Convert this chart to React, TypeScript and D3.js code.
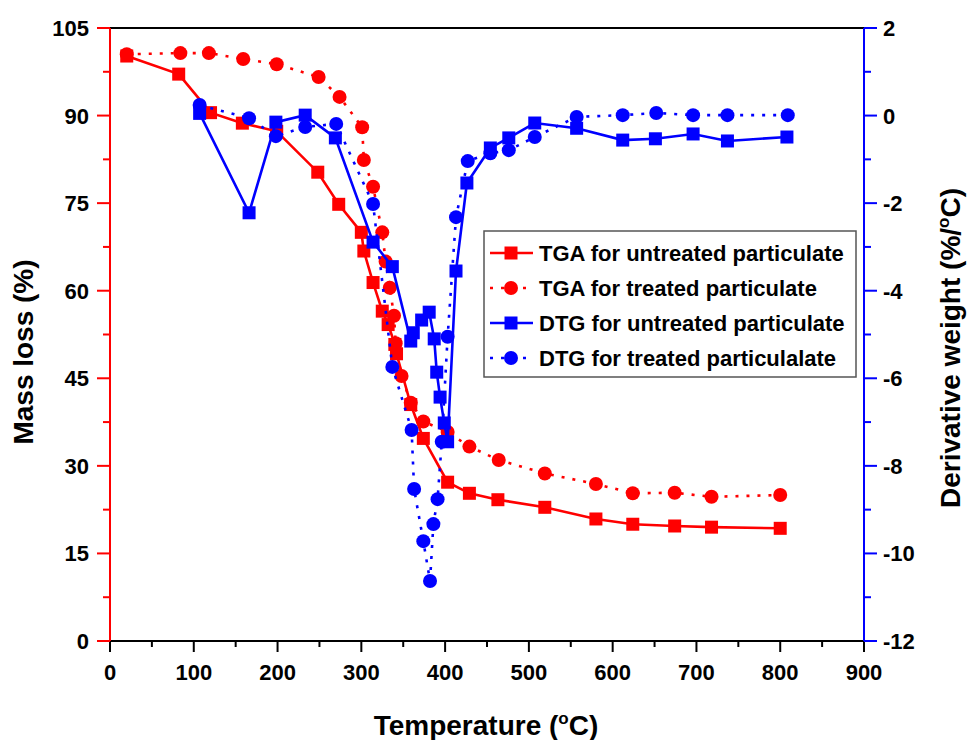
import React from "react";
import * as d3 from "d3";

const tgaUntreatedT = [20, 82, 120, 158, 199, 248, 273, 300, 303, 314, 325, 332, 340, 342, 359, 374, 403, 429, 463, 519, 580, 624, 674, 718, 800];
const tgaUntreatedV = [100.2, 97.1, 90.5, 88.7, 87.3, 80.3, 74.8, 70.0, 66.8, 61.4, 56.5, 54.2, 50.8, 49.2, 40.5, 34.7, 27.2, 25.3, 24.2, 22.9, 20.9, 20.0, 19.7, 19.5, 19.3];

const tgaTreatedT = [20, 84, 118, 159, 199, 249, 274, 301, 303, 314, 325, 329, 334, 339, 341, 348, 359, 374, 403, 429, 464, 519, 580, 624, 674, 718, 800];
const tgaTreatedV = [100.5, 100.7, 100.7, 99.7, 98.8, 96.6, 93.2, 88.0, 82.4, 77.8, 70.0, 65.0, 60.5, 55.7, 51.0, 45.4, 40.8, 37.6, 35.8, 33.3, 31.0, 28.7, 26.9, 25.3, 25.4, 24.7, 25.0];

const dtgUntreatedT = [107, 166, 198, 233, 269, 314, 337, 359, 362, 372, 381, 387, 390, 394, 399, 403, 413, 426, 454, 476, 507, 557, 612, 651, 696, 737, 808];
const dtgUntreatedV = [0.05, -2.22, -0.15, 0.01, -0.51, -2.89, -3.45, -5.15, -4.96, -4.67, -4.49, -5.1, -5.86, -6.43, -7.02, -7.45, -3.55, -1.54, -0.74, -0.51, -0.17, -0.29, -0.56, -0.53, -0.42, -0.58, -0.49];

const dtgTreatedT = [107, 166, 198, 233, 270, 314, 337, 360, 363, 374, 382, 386, 391, 396, 403, 413, 427, 454, 476, 507, 557, 612, 652, 696, 737, 809];
const dtgTreatedV = [0.24, -0.06, -0.47, -0.26, -0.19, -2.02, -5.74, -7.18, -8.53, -9.72, -10.63, -9.33, -8.76, -7.45, -5.05, -2.32, -1.04, -0.86, -0.79, -0.49, -0.03, 0.01, 0.06, 0.01, 0.01, 0.01];

const xTicks = [0, 100, 200, 300, 400, 500, 600, 700, 800, 900];
const leftTicks = [0, 15, 30, 45, 60, 75, 90, 105];
const rightTicks = [2, 0, -2, -4, -6, -8, -10, -12];

const legendLabels = [
  "TGA for untreated particulate",
  "TGA for treated particulate",
  "DTG for untreated particulate",
  "DTG for treated particulalate",
];

const RED = "#ff0000";
const BLUE = "#0000ff";
const FONT = "'Liberation Sans', Arial, sans-serif";

export default function App() {
  const W = 967, H = 740;
  const x = d3.scaleLinear().domain([0, 900]).range([110, 864]);
  const yL = d3.scaleLinear().domain([0, 105]).range([641, 28]);
  const yR = d3.scaleLinear().domain([-12, 2]).range([641, 28]);

  const lineL = (ts: number[], vs: number[]) =>
    d3.line<number>().x((_, i) => x(ts[i])).y((v) => yL(v))(vs) || "";
  const lineR = (ts: number[], vs: number[]) =>
    d3.line<number>().x((_, i) => x(ts[i])).y((v) => yR(v))(vs) || "";

  const series = [
    { t: tgaUntreatedT, v: tgaUntreatedV, sc: yL, color: RED, dash: undefined, shape: "sq", path: lineL(tgaUntreatedT, tgaUntreatedV) },
    { t: tgaTreatedT, v: tgaTreatedV, sc: yL, color: RED, dash: "3,8", shape: "ci", path: lineL(tgaTreatedT, tgaTreatedV) },
    { t: dtgUntreatedT, v: dtgUntreatedV, sc: yR, color: BLUE, dash: undefined, shape: "sq", path: lineR(dtgUntreatedT, dtgUntreatedV) },
    { t: dtgTreatedT, v: dtgTreatedV, sc: yR, color: BLUE, dash: "3,8", shape: "ci", path: lineR(dtgTreatedT, dtgTreatedV) },
  ];

  const xMinor = d3.range(50, 900, 100);
  const lMinor = d3.range(7.5, 105, 15);
  const rMinor = d3.range(-11, 2, 2);

  const marker = (shape: string, cx: number, cy: number, color: string, key: any) =>
    shape === "sq" ? (
      <rect key={key} x={cx - 6.5} y={cy - 6.5} width={13} height={13} fill={color} />
    ) : (
      <circle key={key} cx={cx} cy={cy} r={7} fill={color} />
    );

  return (
    <svg width={W} height={H} style={{ position: "absolute", left: 0, top: 0, background: "#fff" }} fontFamily={FONT} fontWeight="bold">
      <rect x={0} y={0} width={W} height={H} fill="#fff" />
      {/* series */}
      {series.map((s, si) => (
        <g key={si}>
          <path d={s.path} fill="none" stroke={s.color} strokeWidth={2.6} strokeDasharray={s.dash} />
          {s.v.map((v, i) => marker(s.shape, x(s.t[i]), s.sc(v), s.color, i))}
        </g>
      ))}

      {/* axes frame */}
      <line x1={110} x2={864} y1={28} y2={28} stroke="#000" strokeWidth={2} />
      <line x1={110} x2={864} y1={641} y2={641} stroke="#000" strokeWidth={2} />
      <line x1={110} x2={110} y1={28} y2={641} stroke={RED} strokeWidth={2} />
      <line x1={864} x2={864} y1={28} y2={641} stroke={BLUE} strokeWidth={2} />

      {/* bottom ticks */}
      {xTicks.map((t) => (
        <g key={"xt" + t}>
          <line x1={x(t)} x2={x(t)} y1={641} y2={652} stroke="#000" strokeWidth={2} />
          <text x={x(t)} y={680} textAnchor="middle" fontSize={22}>{t}</text>
        </g>
      ))}
      {xMinor.map((t) => (
        <line key={"xm" + t} x1={x(t)} x2={x(t)} y1={641} y2={647} stroke="#000" strokeWidth={2} />
      ))}

      {/* left ticks */}
      {leftTicks.map((t) => (
        <g key={"lt" + t}>
          <line x1={97} x2={110} y1={yL(t)} y2={yL(t)} stroke={RED} strokeWidth={2} />
          <text x={89} y={yL(t) + 8} textAnchor="end" fontSize={22}>{t}</text>
        </g>
      ))}
      {lMinor.map((t) => (
        <line key={"lm" + t} x1={103} x2={110} y1={yL(t)} y2={yL(t)} stroke={RED} strokeWidth={2} />
      ))}

      {/* right ticks */}
      {rightTicks.map((t) => (
        <g key={"rt" + t}>
          <line x1={864} x2={877} y1={yR(t)} y2={yR(t)} stroke={BLUE} strokeWidth={2} />
          <text x={883} y={yR(t) + 8} textAnchor="start" fontSize={22}>{t}</text>
        </g>
      ))}
      {rMinor.map((t) => (
        <line key={"rm" + t} x1={864} x2={871} y1={yR(t)} y2={yR(t)} stroke={BLUE} strokeWidth={2} />
      ))}

      {/* axis titles */}
      <text x={486} y={735} textAnchor="middle" fontSize={28}>
        Temperature (<tspan fontSize={17} dy={-11}>o</tspan><tspan dy={11}>C)</tspan>
      </text>
      <text transform="translate(33,352) rotate(-90)" textAnchor="middle" fontSize={28}>Mass loss (%)</text>
      <text transform="translate(960,348) rotate(-90)" textAnchor="middle" fontSize={28}>
        Derivative weight (%/<tspan fontSize={17} dy={-11}>o</tspan><tspan dy={11}>C)</tspan>
      </text>

      {/* legend */}
      <rect x={484} y={231} width={372} height={146} fill="#fff" stroke="#555" strokeWidth={1.5} />
      {series.map((s, i) => {
        const cy = 253 + i * 35;
        return (
          <g key={"lg" + i}>
            <line x1={490} x2={533} y1={cy} y2={cy} stroke={s.color} strokeWidth={2.6} strokeDasharray={s.dash} />
            {marker(s.shape, 511, cy, s.color, "m")}
            <text x={539} y={cy + 8} fontSize={22}>{legendLabels[i]}</text>
          </g>
        );
      })}
    </svg>
  );
}
